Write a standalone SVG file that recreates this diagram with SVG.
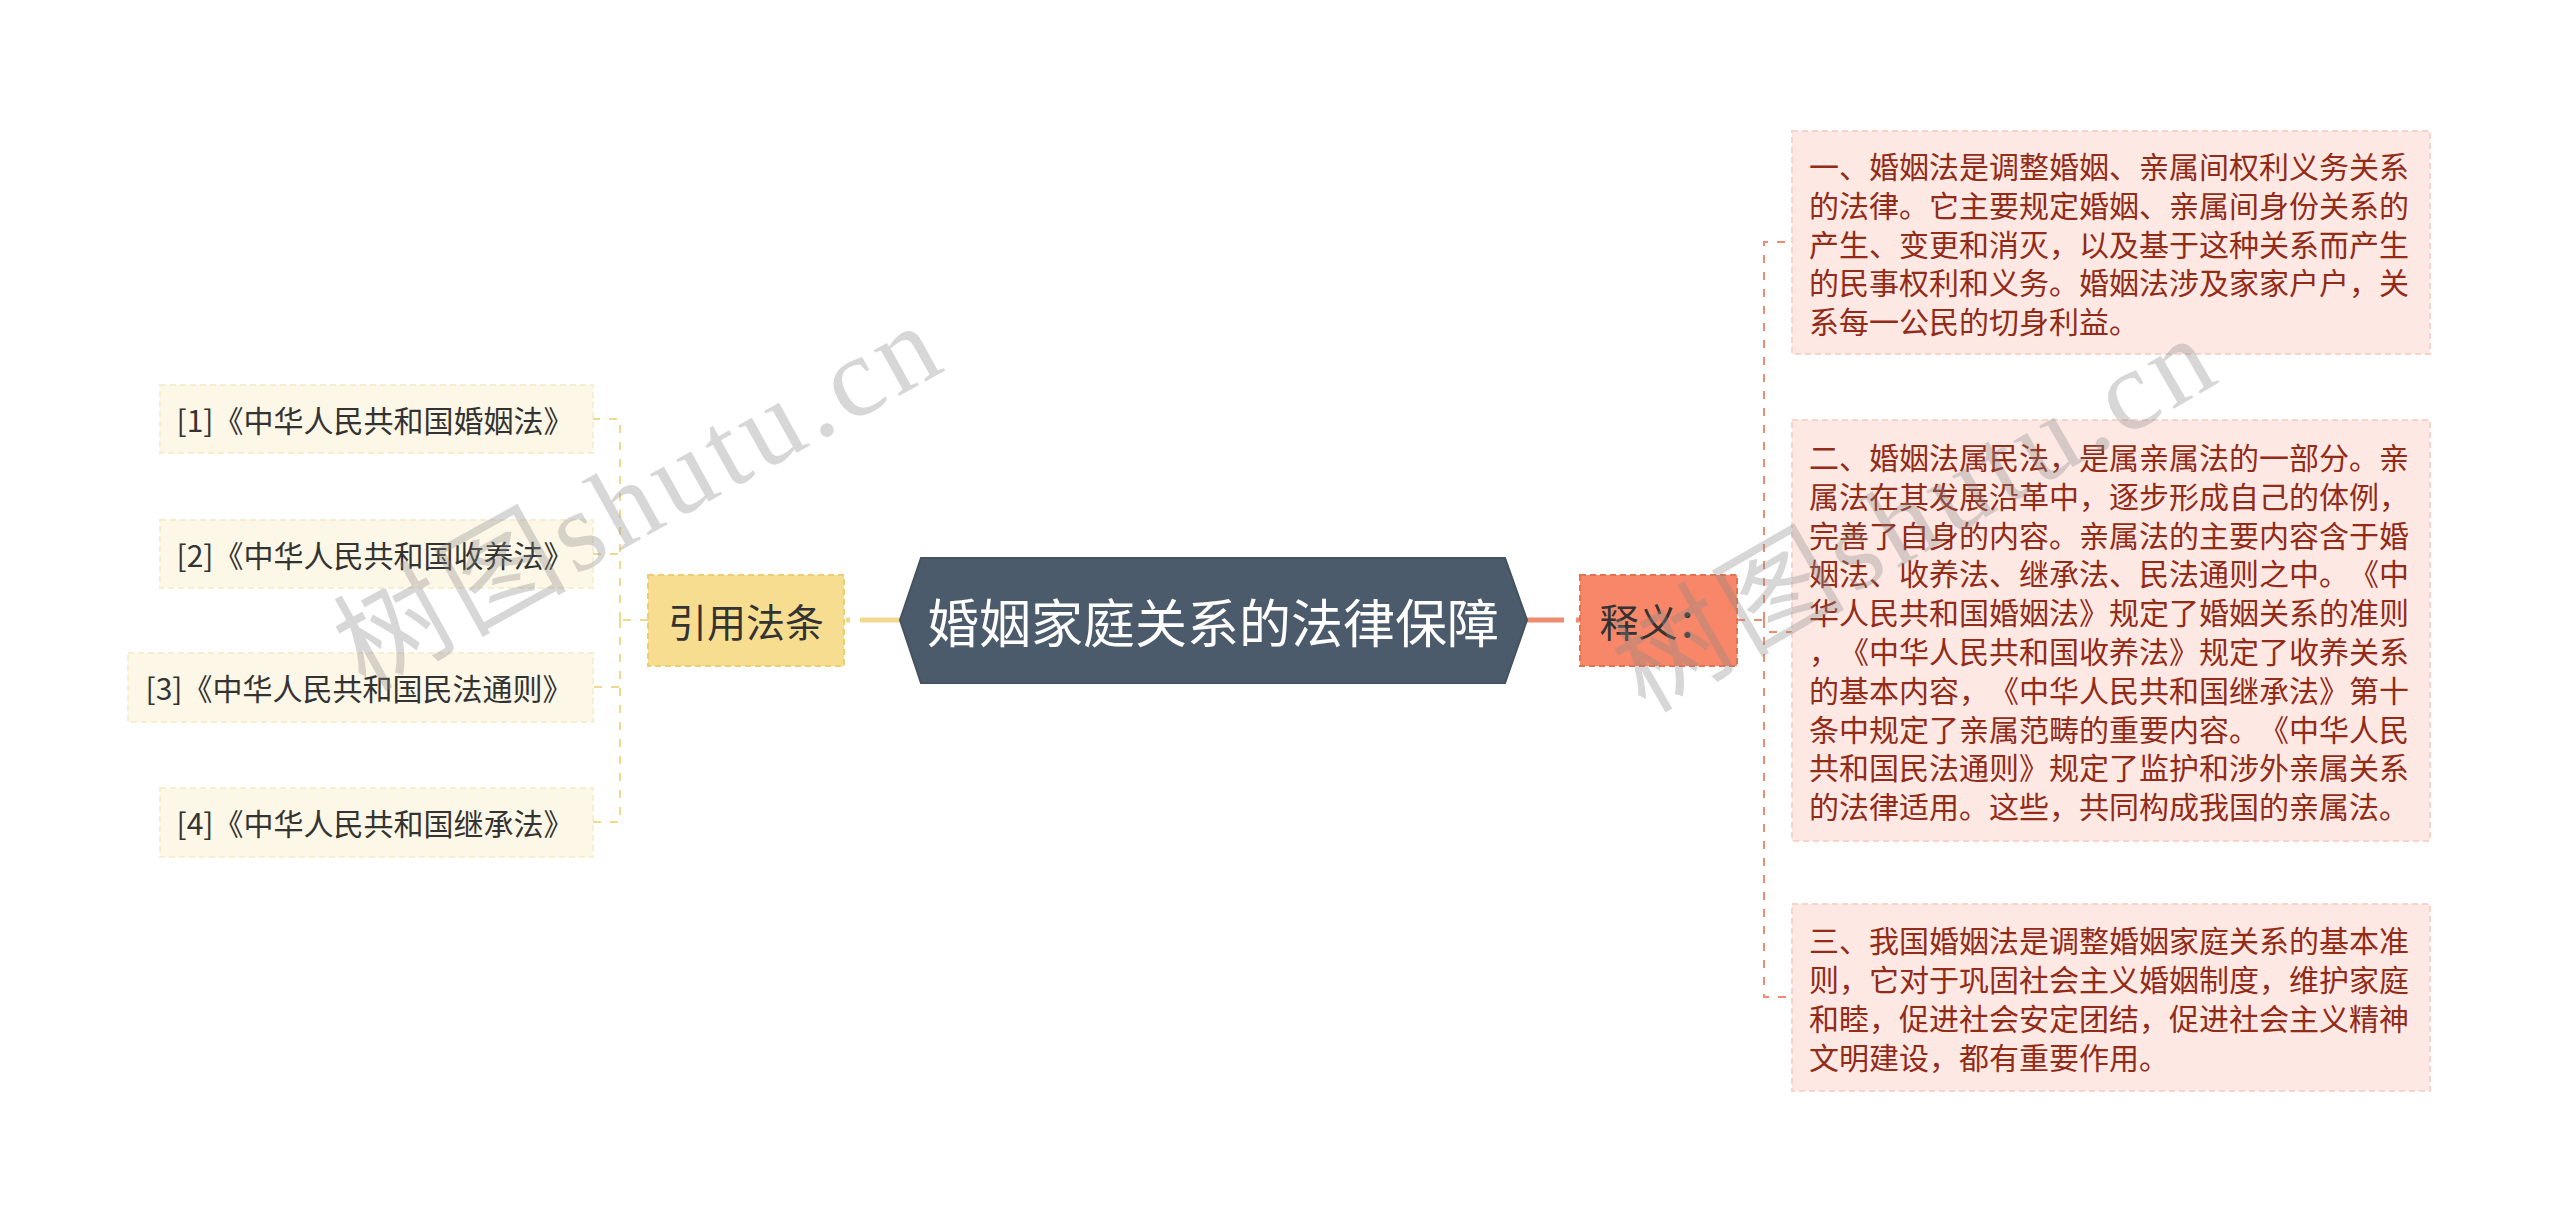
<svg xmlns="http://www.w3.org/2000/svg" width="2560" height="1222" viewBox="0 0 2560 1222">
<style>
  text { font-family: "Noto Sans CJK SC", "Noto Sans", sans-serif; dominant-baseline: central; text-spacing-trim: space-all; font-kerning: none; }
  .ref rect { fill: #FDF7E7; stroke: #F7EDCF; stroke-width: 2; stroke-dasharray: 6 4; }
  .ref text { font-size: 30px; fill: #333333; text-anchor: middle; }
  .exp rect { fill: #FDE8E4; stroke: #F7D3CB; stroke-width: 2; stroke-dasharray: 6 4; }
  .exp text { font-size: 30px; fill: #922B17; }
  .yl { fill: none; stroke: #F0D98C; stroke-width: 2; stroke-dasharray: 8 9; }
  .sl { fill: none; stroke: #EE8C71; stroke-width: 2; stroke-dasharray: 8 9; }
  .wm { font-family: "Noto Sans CJK SC", serif; font-size: 114px; fill: #888888; opacity: 0.33; dominant-baseline: alphabetic; }
  .wm tspan.lat { font-family: "Liberation Serif", serif; }
</style>
<rect width="2560" height="1222" fill="#FFFFFF"/>

<g id="connectors">
  <path d="M900 620 H846" fill="none" stroke="#F0D98C" stroke-width="5" stroke-dasharray="40 10"/>
  <path class="yl" d="M648 620 H620"/>
  <path class="yl" d="M620 620 V419 H593"/>
  <path class="yl" d="M620 620 V554 H593"/>
  <path class="yl" d="M620 620 V687 H593"/>
  <path class="yl" d="M620 620 V822 H593"/>
  <path d="M1526 620 H1580" fill="none" stroke="#EE8C71" stroke-width="5" stroke-dasharray="38 12"/>
  <path class="sl" d="M1737 620 H1764"/>
  <path class="sl" d="M1764 620 V242 H1792"/>
  <path class="sl" d="M1764 620 V632 H1792"/>
  <path class="sl" d="M1764 620 V997 H1792"/>
</g>

<g id="root">
  <polygon points="900,620 921,558 1505,558 1527,620 1505,683 921,683" fill="#4B5B6B" stroke="#43525F" stroke-width="2"/>
  <text x="1213" y="620" font-size="52" fill="#FFFFFF" text-anchor="middle">婚姻家庭关系的法律保障</text>
</g>

<g id="node-yinyong">
  <rect x="648" y="575" width="196" height="91" fill="#F7DD8F" stroke="#EDCD72" stroke-width="2" stroke-dasharray="6 4"/>
  <text x="746" y="620" font-size="39" fill="#333333" text-anchor="middle">引用法条</text>
</g>

<g id="node-ref1" class="ref">
  <rect x="160" y="385" width="433" height="68"/>
  <text x="375" y="419">[1]《中华人民共和国婚姻法》</text>
</g>
<g id="node-ref2" class="ref">
  <rect x="160" y="520" width="433" height="68"/>
  <text x="375" y="554">[2]《中华人民共和国收养法》</text>
</g>
<g id="node-ref3" class="ref">
  <rect x="128" y="653" width="465" height="69"/>
  <text x="359" y="687">[3]《中华人民共和国民法通则》</text>
</g>
<g id="node-ref4" class="ref">
  <rect x="160" y="788" width="433" height="69"/>
  <text x="375" y="822">[4]《中华人民共和国继承法》</text>
</g>

<g id="node-shiyi">
  <rect x="1580" y="575" width="157" height="91" fill="#F8876A" stroke="#E5714F" stroke-width="2" stroke-dasharray="6 4"/>
  <text x="1658" y="620" font-size="39" fill="#333333" text-anchor="middle">释义：</text>
</g>

<g id="node-exp1" class="exp">
  <rect x="1792" y="131" width="638" height="223"/>
  <text x="1809" y="165">一、婚姻法是调整婚姻、亲属间权利义务关系</text>
  <text x="1809" y="204">的法律。它主要规定婚姻、亲属间身份关系的</text>
  <text x="1809" y="243">产生、变更和消灭，以及基于这种关系而产生</text>
  <text x="1809" y="281">的民事权利和义务。婚姻法涉及家家户户，关</text>
  <text x="1809" y="320">系每一公民的切身利益。</text>
</g>

<g id="node-exp2" class="exp">
  <rect x="1792" y="420" width="638" height="421"/>
  <text x="1809" y="456">二、婚姻法属民法，是属亲属法的一部分。亲</text>
  <text x="1809" y="495">属法在其发展沿革中，逐步形成自己的体例，</text>
  <text x="1809" y="534">完善了自身的内容。亲属法的主要内容含于婚</text>
  <text x="1809" y="572">姻法、收养法、继承法、民法通则之中。《中</text>
  <text x="1809" y="611">华人民共和国婚姻法》规定了婚姻关系的准则</text>
  <text x="1809" y="650">，《中华人民共和国收养法》规定了收养关系</text>
  <text x="1809" y="689">的基本内容，《中华人民共和国继承法》第十</text>
  <text x="1809" y="728">条中规定了亲属范畴的重要内容。《中华人民</text>
  <text x="1809" y="766">共和国民法通则》规定了监护和涉外亲属关系</text>
  <text x="1809" y="805">的法律适用。这些，共同构成我国的亲属法。</text>
</g>

<g id="node-exp3" class="exp">
  <rect x="1792" y="904" width="638" height="187"/>
  <text x="1809" y="939">三、我国婚姻法是调整婚姻家庭关系的基本准</text>
  <text x="1809" y="978">则，它对于巩固社会主义婚姻制度，维护家庭</text>
  <text x="1809" y="1017">和睦，促进社会安定团结，促进社会主义精神</text>
  <text x="1809" y="1056">文明建设，都有重要作用。</text>
</g>

<g id="watermarks">
  <text class="wm" transform="translate(365,692) rotate(-29)" textLength="665" lengthAdjust="spacing">树图<tspan class="lat">shutu.cn</tspan></text>
  <text class="wm" transform="translate(1645,714) rotate(-30)" textLength="665" lengthAdjust="spacing">树图<tspan class="lat">shutu.cn</tspan></text>
</g>
</svg>
